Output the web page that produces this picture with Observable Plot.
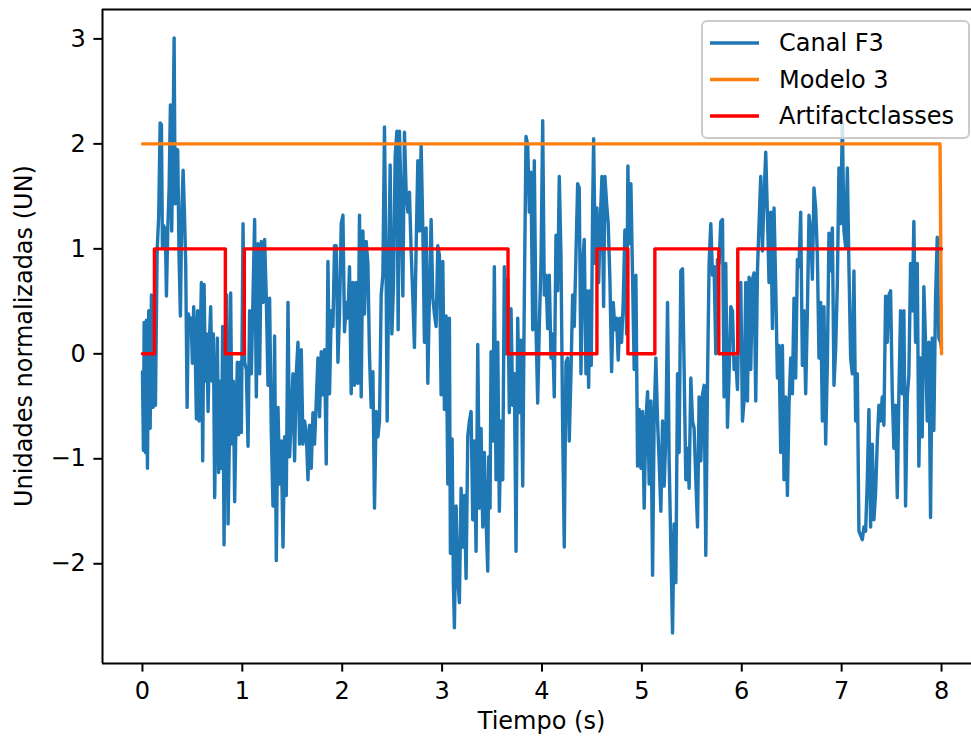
<!DOCTYPE html>
<html><head><meta charset="utf-8">
<script src="https://cdn.jsdelivr.net/npm/d3@7"></script>
<script src="https://cdn.jsdelivr.net/npm/@observablehq/plot@0.6"></script>
<style>
body{margin:0;background:#fff;}
#chart{position:relative;width:971px;height:742px;overflow:hidden;}
</style></head><body><div id="chart"></div>
<script>
// Canal F3 readings: [time (s), value (UN)], grouped by second
const canalF3_s0 = [[0.000,-0.17],[0.010,-0.92],[0.017,0.30],[0.030,-0.94],[0.040,0.32],[0.050,-1.09],[0.063,0.41],[0.077,-0.71],[0.090,0.56],[0.107,-0.51],[0.117,0.56],[0.130,-0.49],[0.147,0.98],[0.163,1.32],[0.177,2.20],[0.190,2.18],[0.200,1.02],[0.213,1.22],[0.230,1.17],[0.240,0.55],[0.253,1.17],[0.267,1.58],[0.280,2.37],[0.293,1.17],[0.307,2.14],[0.317,3.01],[0.327,1.43],[0.340,1.95],[0.353,1.94],[0.367,0.90],[0.380,0.36],[0.393,1.32],[0.407,1.75],[0.420,1.35],[0.433,0.86],[0.447,-0.51],[0.460,0.38],[0.473,0.30],[0.487,0.34],[0.500,-0.09],[0.513,0.45],[0.527,0.11],[0.540,-0.62],[0.553,0.41],[0.567,-0.64],[0.580,0.19],[0.590,0.68],[0.603,-1.02],[0.617,0.66],[0.630,-0.26],[0.643,0.19],[0.657,-0.55],[0.670,0.11],[0.683,0.45],[0.697,-0.26],[0.710,0.19],[0.723,-1.37],[0.737,-0.45],[0.750,0.15],[0.763,-1.13],[0.777,-0.26],[0.790,-1.09],[0.803,0.26],[0.817,-1.82],[0.830,-0.26],[0.843,0.56],[0.857,-1.62],[0.870,-0.83],[0.883,0.58],[0.897,-0.86],[0.910,-0.26],[0.923,-1.41],[0.937,-0.64],[0.950,-0.08],[0.963,-0.77],[0.977,-0.08],[0.990,-0.75],[1.007,1.24],[1.023,-0.08]];
const canalF3_s1 = [[1.040,-0.15],[1.057,-0.88],[1.073,0.41],[1.090,-0.19],[1.107,0.56],[1.123,1.28],[1.140,-0.41],[1.157,1.05],[1.173,-0.19],[1.190,1.07],[1.207,0.49],[1.223,1.09],[1.240,0.53],[1.257,-0.30],[1.273,0.53],[1.290,-0.75],[1.307,-1.45],[1.323,0.17],[1.340,-1.97],[1.357,-0.51],[1.373,-1.24],[1.390,-0.83],[1.407,-1.84],[1.423,-0.79],[1.440,-1.35],[1.457,0.49],[1.473,-0.98],[1.490,-0.60],[1.507,-0.19],[1.523,-1.02],[1.540,-0.19],[1.557,0.11],[1.573,-0.86],[1.590,0.04],[1.607,-0.86],[1.623,-0.64],[1.640,-0.75],[1.657,-1.20],[1.673,-0.68],[1.690,-1.09],[1.707,-0.56],[1.723,-0.86],[1.740,-0.45],[1.757,-0.04],[1.773,-0.60],[1.790,0.02],[1.807,-0.39],[1.823,0.04],[1.840,-1.05],[1.857,0.88],[1.873,-0.38],[1.890,0.41],[1.907,0.26],[1.923,1.03],[1.940,1.03]];
const canalF3_s2 = [[1.957,-0.08],[1.973,0.38],[1.990,1.24],[2.007,1.32],[2.023,0.21],[2.040,0.49],[2.057,0.34],[2.073,0.83],[2.090,-0.38],[2.107,0.68],[2.123,-0.30],[2.140,0.68],[2.157,-0.28],[2.173,1.32],[2.190,-0.41],[2.207,1.17],[2.223,0.38],[2.240,1.07],[2.257,0.86],[2.273,-0.02],[2.290,-0.51],[2.307,-0.17],[2.323,-1.47],[2.340,-0.55],[2.357,-0.79],[2.373,-0.64],[2.390,0.56],[2.407,0.75],[2.423,2.16],[2.440,0.68],[2.450,-0.64],[2.467,0.86],[2.480,1.80],[2.497,0.19],[2.513,0.64],[2.530,1.88],[2.547,2.12],[2.560,0.23],[2.573,2.12],[2.590,1.43],[2.607,0.55],[2.623,2.11],[2.640,1.54],[2.657,1.35],[2.673,1.54],[2.690,0.98],[2.707,0.53],[2.723,0.06],[2.740,1.02],[2.757,1.84],[2.773,1.17],[2.790,1.99],[2.807,1.18],[2.823,0.11],[2.840,1.20],[2.857,-0.28],[2.873,0.56],[2.890,1.28],[2.907,0.53],[2.923,0.38],[2.940,0.26],[2.957,1.03],[2.973,0.94],[2.990,-0.39],[3.007,0.88],[3.023,-0.53],[3.040,0.36],[3.057,-1.24],[3.073,0.34],[3.083,-1.90]];
const canalF3_s3 = [[3.100,-0.81],[3.113,-2.18],[3.123,-2.61],[3.140,-1.45],[3.157,-2.14],[3.173,-2.37],[3.190,-1.28],[3.207,-1.84],[3.223,-1.35],[3.240,-2.14],[3.257,-0.79],[3.273,-0.64],[3.290,-0.55],[3.307,-1.58],[3.323,-0.83],[3.340,-1.88],[3.357,0.09],[3.373,-1.47],[3.390,-0.71],[3.407,-1.65],[3.423,-0.94],[3.440,-1.58],[3.457,-2.07],[3.467,-0.98],[3.480,-1.47],[3.490,0.02],[3.507,-0.83],[3.523,0.83],[3.540,-1.20],[3.557,0.11],[3.573,-1.50],[3.590,-0.64],[3.607,-1.20],[3.623,0.83],[3.640,0.00],[3.657,0.71],[3.673,-0.56],[3.690,0.43],[3.707,-0.49],[3.723,-0.19],[3.740,-1.88],[3.757,0.34],[3.773,-0.56],[3.790,0.13],[3.807,-1.26],[3.823,0.53],[3.840,2.07],[3.857,1.99],[3.873,1.35],[3.890,1.73],[3.907,0.23],[3.923,1.84],[3.940,0.26],[3.957,-0.47],[3.973,0.26],[3.990,0.86],[4.007,2.22],[4.023,0.56],[4.040,0.75],[4.057,0.24],[4.073,0.75],[4.090,-0.04]];
const canalF3_s4 = [[4.107,0.19],[4.123,-0.41],[4.140,1.13],[4.157,0.60],[4.173,1.69],[4.190,0.94],[4.207,-0.71],[4.223,-1.84],[4.240,-0.08],[4.257,-0.04],[4.273,-0.83],[4.290,-0.19],[4.307,0.56],[4.323,0.26],[4.340,0.94],[4.357,1.62],[4.373,1.58],[4.390,-0.19],[4.407,0.86],[4.423,1.09],[4.440,-0.19],[4.457,0.60],[4.467,-0.32],[4.480,0.60],[4.493,-0.11],[4.507,1.39],[4.517,2.05],[4.533,0.86],[4.550,1.39],[4.567,0.68],[4.583,1.24],[4.600,1.69],[4.617,0.45],[4.630,1.69],[4.647,1.43],[4.663,1.24],[4.680,0.71],[4.697,-0.17],[4.713,0.49],[4.730,0.23],[4.747,0.34],[4.763,-0.06],[4.780,0.34],[4.797,0.11],[4.813,0.49],[4.830,1.18],[4.847,0.19],[4.860,1.79],[4.873,1.05],[4.890,1.62],[4.907,0.71],[4.923,-0.15],[4.940,0.75],[4.957,-1.07],[4.973,-0.53],[4.990,-1.09],[5.007,-0.55],[5.023,-1.47],[5.040,-0.64],[5.057,-0.36],[5.073,-1.24],[5.090,-0.45]];
const canalF3_s5 = [[5.107,-2.11],[5.123,-0.60],[5.140,-0.04],[5.157,-0.64],[5.173,-1.02],[5.190,-1.50],[5.207,-0.64],[5.223,-1.26],[5.240,-0.79],[5.257,0.49],[5.273,-1.02],[5.290,-1.84],[5.307,-2.66],[5.323,-1.62],[5.340,-2.18],[5.357,-0.19],[5.373,-0.94],[5.390,0.79],[5.407,0.81],[5.423,-0.15],[5.440,-1.20],[5.457,-0.90],[5.473,-1.28],[5.490,-0.23],[5.507,-0.64],[5.523,-0.71],[5.540,-1.20],[5.557,-1.65],[5.573,-0.41],[5.590,-1.02],[5.607,-0.39],[5.623,-0.30],[5.640,-1.92],[5.657,-0.26],[5.673,0.86],[5.690,1.24],[5.707,0.75],[5.723,0.83],[5.740,0.00],[5.757,0.90],[5.773,0.86],[5.790,1.26],[5.807,1.28],[5.823,-0.41],[5.840,0.86],[5.857,-0.70],[5.873,-0.19],[5.890,0.45],[5.907,0.41],[5.923,-0.15],[5.940,-0.04],[5.957,-0.34],[5.973,0.49],[5.990,0.68],[6.007,-0.64],[6.023,-0.45],[6.040,0.68],[6.057,-0.45],[6.073,0.73],[6.090,-0.15]];
const canalF3_s6 = [[6.107,0.71],[6.123,0.77],[6.140,-0.45],[6.157,0.79],[6.173,1.24],[6.190,1.69],[6.207,0.98],[6.223,1.50],[6.240,1.92],[6.257,1.32],[6.273,0.68],[6.290,1.35],[6.307,0.24],[6.323,1.39],[6.340,0.64],[6.357,-0.23],[6.373,0.08],[6.390,-0.94],[6.407,0.08],[6.423,-1.20],[6.440,-0.41],[6.457,-1.35],[6.473,-0.49],[6.490,-0.04],[6.507,-0.38],[6.523,0.53],[6.540,-0.23],[6.557,0.90],[6.573,0.83],[6.590,1.35],[6.607,-0.11],[6.623,0.41],[6.640,-0.38],[6.657,0.41],[6.673,1.32],[6.690,1.17],[6.707,0.71],[6.723,1.58],[6.740,1.39],[6.757,0.94],[6.773,-0.04],[6.790,0.49],[6.807,-0.64],[6.823,0.45],[6.840,-0.86],[6.857,-0.08],[6.873,1.15],[6.890,0.79],[6.907,1.20],[6.923,-0.30],[6.940,0.04],[6.957,0.68],[6.973,1.77],[6.990,1.24],[7.007,2.20],[7.023,1.17],[7.040,1.02],[7.057,1.77],[7.073,0.83],[7.090,-0.04]];
const canalF3_s7 = [[7.107,-0.19],[7.123,0.79],[7.140,-0.64],[7.157,-0.19],[7.173,-1.69],[7.190,-1.73],[7.207,-1.77],[7.223,-1.65],[7.240,-1.69],[7.257,-1.20],[7.273,-0.53],[7.290,-1.65],[7.307,-0.86],[7.323,-1.58],[7.340,-1.32],[7.357,-0.83],[7.373,-0.49],[7.390,-0.64],[7.407,-0.41],[7.423,-0.68],[7.440,0.55],[7.457,0.11],[7.473,0.56],[7.490,0.60],[7.507,-0.38],[7.523,-0.90],[7.540,-0.49],[7.557,-1.37],[7.573,-0.38],[7.590,0.41],[7.607,-0.38],[7.623,0.41],[7.640,-1.45],[7.657,-0.41],[7.673,-0.20],[7.690,0.86],[7.707,0.41],[7.723,1.26],[7.740,0.11],[7.757,0.86],[7.773,-1.07],[7.790,-0.04],[7.807,-0.79],[7.823,0.64],[7.840,0.11],[7.857,-0.64],[7.873,0.11],[7.890,-1.56],[7.907,0.15],[7.923,-0.73],[7.940,0.53],[7.957,1.11],[7.973,0.15],[7.990,0.11],[8.000,0.05]];

// Modelo 3 (constant class prediction)
const modelo3Time = [0, 7.985, 8.0];
const modelo3Value = [2, 2, 0];

// Artifact classes (step function: value holds from each time until the next)
const artifactTime = [0, 0.12, 0.83, 1.02, 3.66, 4.55, 4.86, 5.13, 5.77, 5.96, 8.0];
const artifactValue = [0, 1, 0, 1, 0, 1, 0, 1, 0, 1, 1];

const xTicks = [0, 1, 2, 3, 4, 5, 6, 7, 8];
const yTicks = [-2, -1, 0, 1, 2, 3];
const seriesNames = ["Canal F3", "Modelo 3", "Artifactclasses"];
const seriesColors = ["#1f77b4", "#ff7f0e", "#ff0000"];
const xLabel = "Tiempo (s)";
const yLabel = "Unidades normalizadas (UN)";

const canal = [canalF3_s0, canalF3_s1, canalF3_s2, canalF3_s3, canalF3_s4, canalF3_s5, canalF3_s6, canalF3_s7]
  .flat().map(([t, v]) => ({t, v}));
const modelo = modelo3Time.map((t, i) => ({t, v: modelo3Value[i]}));
const artifact = artifactTime.map((t, i) => ({t, v: artifactValue[i]}));

const FONT = "DejaVu Sans";
const xDomain = [-0.4, 8.3];
const yDomain = [-2.95, 3.28];
const LW = 3.4;

const plot = Plot.plot({
  width: 971,
  height: 742,
  marginLeft: 102,
  marginRight: 0,
  marginTop: 9,
  marginBottom: 79,
  style: {fontFamily: FONT, fontSize: "24px", background: "white", color: "black", overflow: "visible"},
  x: {domain: xDomain},
  y: {domain: yDomain},
  marks: [
    Plot.line(canal, {x: "t", y: "v", stroke: seriesColors[0], strokeWidth: LW, strokeLinejoin: "round"}),
    Plot.line(modelo, {x: "t", y: "v", stroke: seriesColors[1], strokeWidth: LW}),
    Plot.line(artifact, {x: "t", y: "v", stroke: seriesColors[2], strokeWidth: LW, curve: "step-after"}),
    Plot.ruleX([xDomain[0]], {stroke: "black", strokeWidth: 2}),
    Plot.ruleY(yDomain, {stroke: "black", strokeWidth: 2}),
    Plot.axisX({ticks: xTicks, tickSize: 8.6, tickPadding: 10, tickFormat: d => String(d), label: null, strokeWidth: 2}),
    Plot.axisY({ticks: yTicks, tickSize: 8.6, tickPadding: 8, tickFormat: d => d < 0 ? "\u2212" + Math.abs(d) : String(d), label: null, strokeWidth: 2})
  ]
});

document.getElementById("chart").appendChild(plot);

const svg = d3.select(plot);
// axis titles
svg.append("text")
  .attr("x", (102 + 981) / 2).attr("y", 729)
  .attr("text-anchor", "middle")
  .attr("font-family", FONT).attr("font-size", 24).attr("fill", "black")
  .text(xLabel);
svg.append("text")
  .attr("transform", `translate(32,${(9 + 663) / 2}) rotate(-90)`)
  .attr("text-anchor", "middle")
  .attr("font-family", FONT).attr("font-size", 24).attr("fill", "black")
  .text(yLabel);

// legend
const lg = svg.append("g").attr("text-anchor", "start");
lg.append("rect")
  .attr("x", 702).attr("y", 21).attr("width", 267).attr("height", 117)
  .attr("rx", 5).attr("fill", "white").attr("fill-opacity", 0.8)
  .attr("stroke", "#cccccc").attr("stroke-width", 2);
seriesNames.forEach((name, i) => {
  const yy = 43 + i * 36.5;
  lg.append("line").attr("x1", 710).attr("x2", 759).attr("y1", yy).attr("y2", yy)
    .attr("stroke", seriesColors[i]).attr("stroke-width", LW);
  lg.append("text").attr("x", 779).attr("y", yy).attr("dy", "0.35em")
    .attr("text-anchor", "start")
    .attr("font-family", FONT).attr("font-size", 24).attr("fill", "black")
    .text(name);
});
</script>
</body></html>
